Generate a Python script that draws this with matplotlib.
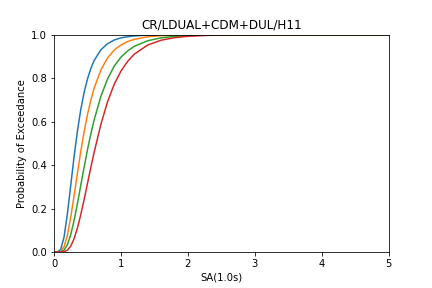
import numpy as np
import matplotlib
matplotlib.use('Agg')
import matplotlib.pyplot as plt

# SA(1.0s) values where the curves were read
sa = [0, 0.05, 0.1, 0.15, 0.2, 0.25, 0.3, 0.35, 0.4, 0.45, 0.5, 0.55, 0.6,
      0.7, 0.8, 0.9, 1.0, 1.1, 1.2, 1.4, 1.6, 1.8, 2.0, 2.3, 2.6, 3.0, 4.0, 5.0]

# probability of exceedance per damage state
ds1 = [0, 0.0002, 0.0116, 0.0685, 0.175, 0.307, 0.439, 0.557, 0.655, 0.734, 0.796,
       0.844, 0.881, 0.930, 0.958, 0.975, 0.985, 0.990, 0.994, 0.9975, 0.999,
       0.9995, 1.0, 1.0, 1.0, 1.0, 1.0, 1.0]
ds2 = [0, 0, 0.0029, 0.024, 0.077, 0.160, 0.259, 0.363, 0.463, 0.553, 0.632,
       0.698, 0.754, 0.837, 0.893, 0.929, 0.952, 0.968, 0.978, 0.990, 0.995,
       0.9974, 0.9987, 0.9996, 1.0, 1.0, 1.0, 1.0]
ds3 = [0, 0, 0.0008, 0.0084, 0.033, 0.080, 0.145, 0.223, 0.307, 0.390, 0.470,
       0.543, 0.608, 0.716, 0.796, 0.855, 0.896, 0.925, 0.946, 0.9715, 0.985,
       0.9916, 0.9952, 0.9979, 0.999, 0.9997, 1.0, 1.0]
ds4 = [0, 0, 0.0001, 0.0014, 0.0084, 0.027, 0.061, 0.110, 0.172, 0.241, 0.315,
       0.389, 0.459, 0.587, 0.691, 0.772, 0.832, 0.877, 0.910, 0.952, 0.974,
       0.9857, 0.992, 0.9965, 0.9984, 0.9994, 1.0, 1.0]

plt.figure(figsize=(6, 4), dpi=72)
plt.subplots_adjust(left=0.125, right=0.9, bottom=0.125, top=0.88)
for ds in [ds1, ds2, ds3, ds4]:
    plt.plot(sa, ds)

plt.xlim(0, 5)
plt.ylim(0, 1)
plt.xlabel('SA(1.0s)')
plt.ylabel('Probability of Exceedance')
plt.title('CR/LDUAL+CDM+DUL/H11')
plt.savefig('out.png', dpi=72)
